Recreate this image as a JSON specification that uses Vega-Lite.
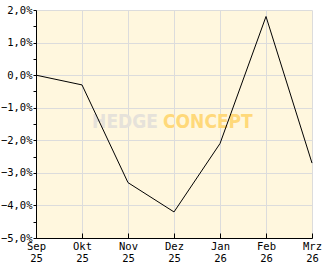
{
  "$schema": "https://vega.github.io/schema/vega-lite/v6.json",
  "autosize": "none",
  "width": 276,
  "height": 228,
  "padding": {"left": 36, "top": 10, "right": 20, "bottom": 31},
  "background": "#ffffff",
  "config": {
    "view": {"fill": "#fff7de", "stroke": null},
    "font": "DejaVu Sans Mono"
  },
  "datasets": {
    "series": [
      {"m": "Sep 25", "v": 0.0},
      {"m": "Okt 25", "v": -0.3},
      {"m": "Nov 25", "v": -3.3},
      {"m": "Dez 25", "v": -4.2},
      {"m": "Jan 26", "v": -2.1},
      {"m": "Feb 26", "v": 1.8},
      {"m": "Mrz 26", "v": -2.7}
    ],
    "wm": [
      {"m": "Dez 25", "v": -1.45, "t1": "HEDGE", "t2": "CONCEPT"}
    ]
  },
  "encoding": {
    "x": {
      "field": "m", "type": "ordinal", "sort": null,
      "scale": {"type": "point", "padding": 0,
        "domain": ["Sep 25", "Okt 25", "Nov 25", "Dez 25", "Jan 26", "Feb 26", "Mrz 26"]},
      "axis": {
        "title": null, "labelAngle": 0, "labelExpr": "split(datum.label, ' ')",
        "labelFontSize": 10.5, "labelColor": "#000000", "labelPadding": 8,
        "labelBaseline": "top",
        "domainColor": "#000000", "tickColor": "#000000", "tickSize": -5,
        "grid": true, "gridColor": "#dcdcdc", "labelLineHeight": 12
      }
    },
    "y": {
      "field": "v", "type": "quantitative",
      "scale": {"domain": [-5, 2], "nice": false},
      "axis": {
        "title": null,
        "values": [-5, -4.5, -4, -3.5, -3, -2.5, -2, -1.5, -1, -0.5, 0, 0.5, 1, 1.5, 2],
        "labelExpr": "datum.value % 1 !== 0 ? '' : replace(format(datum.value, '.1f'), '.', ',') + '%'",
        "labelFontSize": 10.5, "labelColor": "#000000", "labelPadding": 1,
        "domainColor": "#000000", "tickColor": "#000000", "tickSize": 3,
        "grid": true,
        "gridColor": {"condition": {"test": "datum.value % 1 !== 0", "value": "transparent"}, "value": "#dcdcdc"}
      }
    }
  },
  "layer": [
    {
      "data": {"name": "wm"},
      "mark": {"type": "text", "align": "right", "baseline": "middle", "dx": -16,
        "font": "DejaVu Sans Condensed", "fontWeight": "bold", "fontSize": 19, "color": "#e6e2da"},
      "encoding": {"text": {"field": "t1"}}
    },
    {
      "data": {"name": "wm"},
      "mark": {"type": "text", "align": "left", "baseline": "middle", "dx": -11,
        "font": "DejaVu Sans Condensed", "fontWeight": "bold", "fontSize": 19, "color": "#ffd97a"},
      "encoding": {"text": {"field": "t2"}}
    },
    {
      "data": {"name": "series"},
      "mark": {"type": "line", "color": "#000000", "strokeWidth": 1}
    }
  ]
}
